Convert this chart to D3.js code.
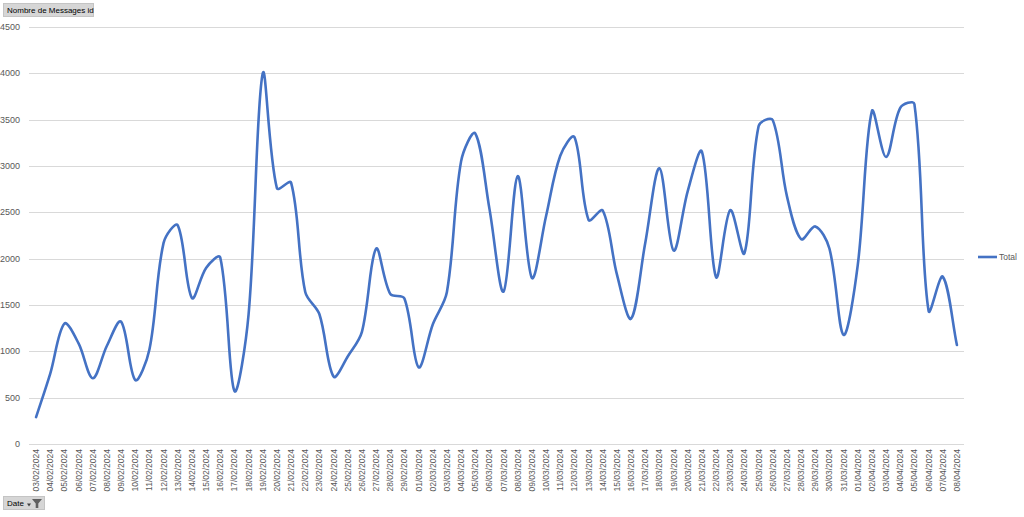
<!DOCTYPE html>
<html lang="fr">
<head>
<meta charset="UTF-8">
<title>Nombre de Messages id</title>
<script src="https://d3js.org/d3.v7.min.js"></script>
<style>
  html, body { margin: 0; padding: 0; background: #fff; }
  body { font-family: "Liberation Sans", Arial, sans-serif; }
  svg { display: block; }
  .grid line { stroke: #d9d9d9; stroke-width: 1; }
  .ytick { font-size: 9px; fill: #595959; text-anchor: end; }
  .xtick { font-size: 8.5px; fill: #595959; }
  .btn-text { font-size: 8px; fill: #000; }
</style>
</head>
<body>
<svg id="chart"></svg>
<script>
// dates (Excel pivot categories)
const dates = [
  "03/02/2024","04/02/2024","05/02/2024","06/02/2024","07/02/2024","08/02/2024","09/02/2024",
  "10/02/2024","11/02/2024","12/02/2024","13/02/2024","14/02/2024","15/02/2024","16/02/2024",
  "17/02/2024","18/02/2024","19/02/2024","20/02/2024","21/02/2024","22/02/2024","23/02/2024",
  "24/02/2024","25/02/2024","26/02/2024","27/02/2024","28/02/2024","29/02/2024","01/03/2024",
  "02/03/2024","03/03/2024","04/03/2024","05/03/2024","06/03/2024","07/03/2024","08/03/2024",
  "09/03/2024","10/03/2024","11/03/2024","12/03/2024","13/03/2024","14/03/2024","15/03/2024",
  "16/03/2024","17/03/2024","18/03/2024","19/03/2024","20/03/2024","21/03/2024","22/03/2024",
  "23/03/2024","24/03/2024","25/03/2024","26/03/2024","27/03/2024","28/03/2024","29/03/2024",
  "30/03/2024","31/03/2024","01/04/2024","02/04/2024","03/04/2024","04/04/2024","05/04/2024",
  "06/04/2024","07/04/2024","08/04/2024"
];

// Total = Nombre de Messages id per day
const totals = [
  290, 760, 1300, 1085, 710, 1060, 1320,
  690, 1020, 2170, 2360, 1575, 1900, 2012,
  572, 1400, 4000, 2760, 2820, 1640, 1400,
  728, 945, 1210, 2108, 1620, 1570, 828,
  1290, 1640, 3050, 3352, 2540, 1645, 2890,
  1792, 2460, 3110, 3312, 2418, 2520, 1830,
  1352, 2170, 2975, 2088, 2730, 3156, 1800,
  2524, 2058, 3430, 3495, 2675, 2210, 2348,
  2110, 1178, 1930, 3592, 3098, 3628, 3668,
  1437, 1806, 1068
];

const yTicks = [0, 500, 1000, 1500, 2000, 2500, 3000, 3500, 4000, 4500];
const seriesName = "Total";

const width = 1024, height = 517;
const plot = { left: 29, right: 964, top: 27, bottom: 444 };

const svg = d3.select("#chart").attr("width", width).attr("height", height);

const x = d3.scalePoint()
  .domain(dates)
  .range([plot.left, plot.right])
  .padding(0.5);

const y = d3.scaleLinear()
  .domain([0, 4500])
  .range([plot.bottom, plot.top]);

// gridlines
svg.append("g").attr("class", "grid")
  .selectAll("line")
  .data(yTicks)
  .join("line")
  .attr("x1", plot.left)
  .attr("x2", plot.right)
  .attr("y1", d => Math.round(y(d)) + 0.5)
  .attr("y2", d => Math.round(y(d)) + 0.5);

// y labels
svg.append("g")
  .selectAll("text")
  .data(yTicks)
  .join("text")
  .attr("class", "ytick")
  .attr("x", 20)
  .attr("y", d => y(d) + 3)
  .text(d => d);

// x labels, rotated
svg.append("g")
  .selectAll("text")
  .data(dates)
  .join("text")
  .attr("class", "xtick")
  .attr("text-anchor", "end")
  .attr("transform", d => `translate(${x(d) + 3},${plot.bottom + 5}) rotate(-90)`)
  .text(d => d);

// Excel-style smoothing: bezier handles scaled by neighbouring segment lengths
function excelSmooth(pts) {
  const p = d3.path();
  const n = pts.length;
  const dist = (a, b) => Math.hypot(b[0] - a[0], b[1] - a[1]);
  const k = 1 / 3;
  p.moveTo(pts[0][0], pts[0][1]);
  for (let i = 0; i < n - 1; i++) {
    const p0 = pts[Math.max(i - 1, 0)];
    const p1 = pts[i];
    const p2 = pts[i + 1];
    const p3 = pts[Math.min(i + 2, n - 1)];
    const d01 = dist(p0, p1), d12 = dist(p1, p2), d23 = dist(p2, p3);
    const f1 = (d01 + d12) > 0 ? k * d12 / (d01 + d12) : 0;
    const f2 = (d12 + d23) > 0 ? k * d12 / (d12 + d23) : 0;
    const c1 = [p1[0] + (p2[0] - p0[0]) * f1, p1[1] + (p2[1] - p0[1]) * f1];
    const c2 = [p2[0] - (p3[0] - p1[0]) * f2, p2[1] - (p3[1] - p1[1]) * f2];
    p.bezierCurveTo(c1[0], c1[1], c2[0], c2[1], p2[0], p2[1]);
  }
  return p.toString();
}

const points = totals.map((v, i) => [x(dates[i]), y(v)]);

svg.append("path")
  .attr("fill", "none")
  .attr("stroke", "#4472c4")
  .attr("stroke-width", 2.6)
  .attr("stroke-linecap", "round")
  .attr("stroke-linejoin", "round")
  .attr("d", excelSmooth(points));

// legend
const legend = svg.append("g").attr("transform", "translate(978,257)");
legend.append("line")
  .attr("x1", 0).attr("x2", 19).attr("y1", 0).attr("y2", 0)
  .attr("stroke", "#4472c4").attr("stroke-width", 2.6);
legend.append("text")
  .attr("x", 21).attr("y", 3)
  .style("font-size", "8.5px").style("fill", "#595959")
  .text(seriesName);

// pivot field buttons
function fieldButton(bx, by, w, label) {
  const g = svg.append("g").attr("transform", `translate(${bx},${by})`);
  g.append("rect")
    .attr("x", 0.5).attr("y", 0.5)
    .attr("width", w).attr("height", 13)
    .attr("fill", "#d6d6d6")
    .attr("stroke", "#c4c4c4");
  g.append("text")
    .attr("class", "btn-text")
    .attr("x", 4).attr("y", 10)
    .text(label);
  return g;
}

fieldButton(3, 3, 90, "Nombre de Messages id");

const dateBtn = fieldButton(3, 496, 41, "Date");
// little dropdown arrow + filter funnel
dateBtn.append("path")
  .attr("d", "M24,7.5 L28,7.5 L26,10.5 Z")
  .attr("fill", "#404040");
dateBtn.append("path")
  .attr("d", "M29,3 L39,3 L35.3,7.5 L35.3,12 L32.7,12 L32.7,7.5 Z")
  .attr("fill", "#606060");
</script>
</body>
</html>
